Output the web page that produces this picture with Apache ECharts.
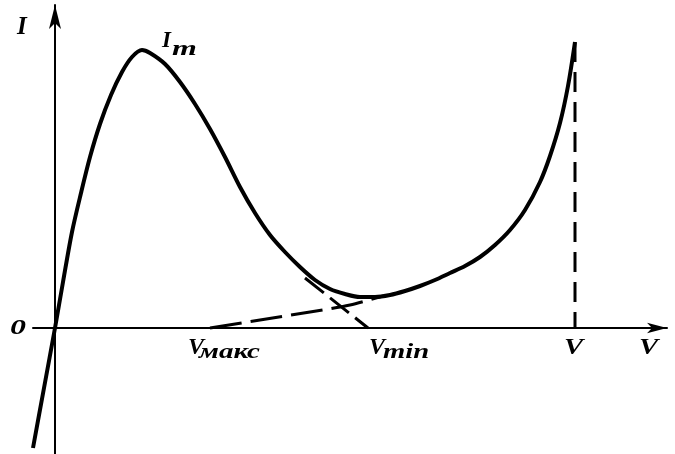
<!DOCTYPE html>
<html>
<head>
<meta charset="utf-8">
<script src="https://cdn.jsdelivr.net/npm/echarts@6/dist/echarts.min.js"></script>
<style>
  html, body { margin: 0; padding: 0; background: #fff; }
  #chart { width: 675px; height: 454px; }
</style>
</head>
<body>
<div id="chart"></div>
<script>
// Tunnel-diode I–V characteristic (arbitrary units)
const curveV = [-0.22, -0.11, 0, 0.08, 0.17, 0.26, 0.35, 0.45, 0.56, 0.67, 0.77, 0.87,
  0.95, 1.10, 1.25, 1.40, 1.55, 1.70, 1.85, 2.00, 2.15, 2.30, 2.45, 2.60, 2.75, 2.90,
  3.05, 3.20, 3.35, 3.50, 3.65, 3.80, 3.95, 4.10, 4.25, 4.40, 4.55, 4.70, 4.85, 4.95,
  5.05, 5.13, 5.20];
const curveI = [-1.20, -0.60, 0, 0.46, 0.96, 1.35, 1.71, 2.04, 2.33, 2.56, 2.71, 2.78,
  2.75, 2.64, 2.46, 2.24, 1.99, 1.71, 1.41, 1.15, 0.93, 0.76, 0.61, 0.48, 0.39, 0.34,
  0.31, 0.31, 0.33, 0.37, 0.42, 0.48, 0.55, 0.62, 0.71, 0.83, 0.98, 1.18, 1.46, 1.72,
  2.05, 2.42, 2.86];

// extrapolated tangents that define V_max and V_min on the voltage axis
const riseV = [1.55, 2.05, 2.55, 2.95, 3.28];
const riseI = [0, 0.08, 0.16, 0.23, 0.32];
const fallV = [2.50, 3.13];
const fallI = [0.50, 0];

// marked voltages and current
const vMax = 1.55, vMin = 3.13, vEnd = 5.20, iEnd = 2.86;
const peakV = 0.87, peakI = 2.78;

const pairs = (xs, ys) => xs.map((x, i) => [x, ys[i]]);

const chart = echarts.init(document.getElementById('chart'));

chart.setOption({
  animation: false,
  backgroundColor: '#fff',
  grid: { left: 33, right: 8, top: 5, bottom: 0 },
  xAxis: {
    type: 'value', min: -0.22, max: 6.12,
    axisLine: { onZero: true, symbol: ['none', 'arrow'], symbolSize: [8, 20], lineStyle: { color: '#000', width: 2 } },
    axisTick: { show: false }, axisLabel: { show: false }, splitLine: { show: false }
  },
  yAxis: {
    type: 'value', min: -1.26, max: 3.23,
    axisLine: { onZero: true, symbol: ['none', 'arrow'], symbolSize: [9, 24], lineStyle: { color: '#000', width: 2 } },
    axisTick: { show: false }, axisLabel: { show: false }, splitLine: { show: false }
  },
  series: [
    {
      type: 'line', data: pairs(curveV, curveI), smooth: 0.3, showSymbol: false, clip: false,
      lineStyle: { color: '#000', width: 4 }
    },
    {
      type: 'line', data: pairs(riseV, riseI), smooth: 0.3, showSymbol: false,
      lineStyle: { color: '#000', width: 3, type: [32, 9] }
    },
    {
      type: 'line', data: pairs(fallV, fallI), showSymbol: false,
      lineStyle: { color: '#000', width: 3, type: [24, 8] }
    },
    {
      type: 'line', data: [[vEnd, iEnd], [vEnd, 0]], showSymbol: false,
      lineStyle: { color: '#000', width: 3, type: [20, 10] }
    }
  ]
});

// text labels anchored to the data points they name
const px = (v, i) => chart.convertToPixel({ gridIndex: 0 }, [v, i]);
const txt = (x, y, text, size, sx) => ({
  type: 'text', x: x, y: y, scaleX: sx || 1,
  style: {
    text: text,
    font: 'italic bold ' + size + 'px Liberation Serif',
    fill: '#000', verticalAlign: 'top', align: 'left'
  }
});

const o = px(0, 0);
const pMax = px(vMax, 0), pMin = px(vMin, 0), pEnd = px(vEnd, 0), pPeak = px(peakV, peakI);
const xEnd = px(6.12, 0);

chart.setOption({
  graphic: [
    txt(o[0] - 38, 15, 'I', 25),
    txt(pPeak[0] + 20, pPeak[1] - 20, 'I', 23),
    txt(pPeak[0] + 30, pPeak[1] - 12, 'm', 22, 1.45),
    txt(o[0] - 45, o[1] - 11, '0', 22, 1.45),
    txt(pMax[0] - 22, pMax[1] + 8, 'V', 24),
    txt(pMax[0] - 11, pMax[1] + 13, 'макс', 22, 1.32),
    txt(pMin[0] + 1, pMin[1] + 8, 'V', 24),
    txt(pMin[0] + 15, pMin[1] + 13, 'min', 22, 1.3),
    txt(pEnd[0] - 11, pEnd[1] + 8, 'V', 24, 1.2),
    txt(xEnd[0] - 28, xEnd[1] + 8, 'V', 24, 1.2)
  ]
});
</script>
</body>
</html>
